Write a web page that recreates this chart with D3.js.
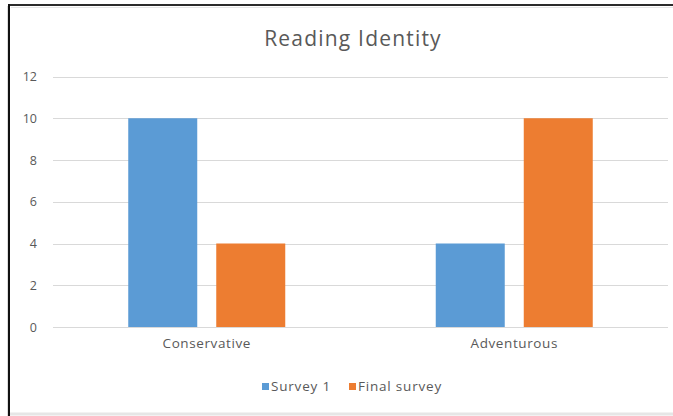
<!DOCTYPE html>
<html>
<head>
<meta charset="utf-8">
<script src="https://cdn.jsdelivr.net/npm/d3@7/dist/d3.min.js"></script>
<style>
  html, body { margin: 0; padding: 0; background: #fff; }
  svg { display: block; }
  text { font-family: "Open Sans", "Lato", sans-serif; fill: #595959; }
</style>
</head>
<body>
<svg id="chart" width="673" height="416"></svg>
<script>
// Reading identity survey results
const categories = ["Conservative", "Adventurous"];
const seriesNames = ["Survey 1", "Final survey"];
const survey1 = [10, 4];
const finalSurvey = [4, 10];
const yTicks = [0, 2, 4, 6, 8, 10, 12];
const colors = ["#5B9BD5", "#ED7D31"];

const seriesValues = [survey1, finalSurvey];
const rows = categories.map((c, i) => ({
  category: c,
  values: seriesNames.map((s, j) => ({ series: s, value: seriesValues[j][i], idx: j }))
}));

const svg = d3.select("#chart");
const W = 673, H = 416;
const plot = { left: 53, right: 668, top: 76.5, bottom: 327 };
const FONT = "'Open Sans', Lato, sans-serif";

// Frame around the chart area
svg.append("rect").attr("x", 0).attr("y", 0).attr("width", W).attr("height", H).attr("fill", "#fff");
svg.append("line").attr("x1", 10).attr("x2", W).attr("y1", 414).attr("y2", 414)
  .attr("stroke", "#e6e6e6").attr("stroke-width", 3);
svg.append("line").attr("x1", 11).attr("x2", W).attr("y1", 7.5).attr("y2", 7.5)
  .attr("stroke", "#e6e6e6").attr("stroke-width", 1);
svg.append("line").attr("x1", 7.5).attr("x2", 7.5).attr("y1", 6).attr("y2", H)
  .attr("stroke", "#dddddd").attr("stroke-width", 1);
svg.append("line").attr("x1", 8).attr("x2", W).attr("y1", 5).attr("y2", 5)
  .attr("stroke", "#2b2b2b").attr("stroke-width", 2);
svg.append("line").attr("x1", 9).attr("x2", 9).attr("y1", 4).attr("y2", H)
  .attr("stroke", "#111").attr("stroke-width", 2);

// Title
svg.append("text").attr("x", 353).attr("y", 46).attr("text-anchor", "middle")
  .style("font-size", "21px").style("letter-spacing", "1.2px")
  .style("font-family", FONT).text("Reading Identity");

const y = d3.scaleLinear().domain([0, 12]).range([plot.bottom, plot.top]);
const x0 = d3.scaleBand().domain(categories).range([plot.left, plot.right]).padding(0);
const groupW = 157;
const x1 = d3.scaleBand().domain(seriesNames)
  .range([(x0.bandwidth() - groupW) / 2, (x0.bandwidth() + groupW) / 2])
  .paddingInner(0.216).paddingOuter(0);

// Gridlines
svg.append("g").selectAll("line").data(yTicks).join("line")
  .attr("x1", plot.left).attr("x2", plot.right)
  .attr("y1", d => Math.round(y(d)) + 0.5).attr("y2", d => Math.round(y(d)) + 0.5)
  .attr("stroke", "#d9d9d9").attr("stroke-width", 1);

// Y axis labels
const yAxis = d3.axisLeft(y).tickValues(yTicks).tickSize(0).tickPadding(0);
const gy = svg.append("g").attr("transform", `translate(37,0)`).call(yAxis);
gy.select(".domain").remove();
gy.selectAll("text").style("font-size", "12.5px").style("font-family", FONT)
  .attr("fill", "#595959");

// Bars
const groups = svg.append("g").selectAll("g").data(rows).join("g")
  .attr("transform", d => `translate(${x0(d.category)},0)`);
groups.selectAll("rect").data(d => d.values).join("rect")
  .attr("x", d => x1(d.series))
  .attr("width", x1.bandwidth())
  .attr("y", d => y(d.value))
  .attr("height", d => y(0) - y(d.value))
  .attr("fill", d => colors[d.idx]);

// Category axis labels
const xAxis = d3.axisBottom(x0).tickSize(0).tickPadding(0);
const gx = svg.append("g").attr("transform", `translate(0,${plot.bottom + 11})`).call(xAxis);
gx.select(".domain").remove();
gx.selectAll("text").style("font-size", "13.5px").style("letter-spacing", "0.6px")
  .style("font-family", FONT).attr("fill", "#595959");

// Legend
const legendItems = [
  { name: seriesNames[0], color: colors[0], x: 262 },
  { name: seriesNames[1], color: colors[1], x: 349 }
];
const lg = svg.append("g").selectAll("g").data(legendItems).join("g")
  .attr("transform", d => `translate(${d.x},383)`);
lg.append("rect").attr("width", 7).attr("height", 7).attr("fill", d => d.color);
lg.append("text").attr("x", 9).attr("y", 8).style("font-size", "13.5px")
  .style("letter-spacing", "0.8px").style("font-family", FONT).text(d => d.name);
</script>
</body>
</html>
